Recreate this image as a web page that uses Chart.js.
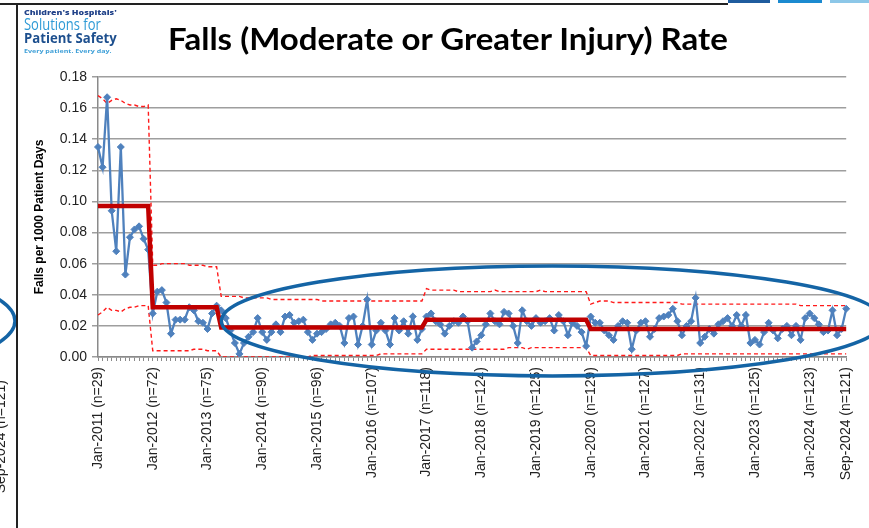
<!DOCTYPE html>
<html lang="en">
<head>
<meta charset="UTF-8">
<title>Falls Rate</title>
<script src="https://cdn.jsdelivr.net/npm/chart.js"></script>
<style>
body {
    margin: 0;
    background: #fff;
}
.slide {
    position: relative;
    width: 869px;
    height: 528px;
    overflow: hidden;
    background: #fff;
}
#chart {
    position: absolute;
    left: 0;
    top: 0;
}
/* slide edges left over from the screenshot */
.edge-v {
    position: absolute;
    left: 16px;
    top: 3px;
    width: 2px;
    height: 525px;
    background: #222;
}
.edge-h {
    position: absolute;
    left: 0;
    top: 3px;
    width: 728px;
    height: 2px;
    background: #222;
}
.bar {
    position: absolute;
    top: 0;
    height: 3px;
}
.logo div, .title {
    position: absolute;
    white-space: nowrap;
    transform-origin: left top;
    line-height: 1;
}
.logo div {
    font-family: 'Open Sans', sans-serif;
}
.title {
    font-family: 'Lato', sans-serif;
    font-weight: 700;
    font-size: 30px;
    color: #000;
}
</style>
</head>
<body>
<div class="slide">
    <canvas id="chart" width="869" height="528"></canvas>
    <div class="edge-h"></div>
    <div class="edge-v"></div>
    <div class="bar" style="left:728px;width:42px;background:#1f5c9e"></div>
    <div class="bar" style="left:778px;width:44px;background:#1b8ad0"></div>
    <div class="bar" style="left:830px;width:39px;background:#8cc7e8"></div>

    <div class="logo">
        <div class="fit" data-w="93" style="left:24px;top:8.5px;font-size:7px;font-weight:800;color:#22438a">Children's Hospitals'</div>
        <div class="fit" data-w="77" style="left:24px;top:15.5px;font-size:16px;font-weight:400;color:#2d9ad6">Solutions for</div>
        <div class="fit" data-w="93" style="left:24px;top:31px;font-size:14px;font-weight:700;color:#1d4f8e">Patient Safety</div>
        <div class="fit" data-w="88" style="left:24px;top:48.5px;font-size:5.5px;font-weight:700;color:#3fa0d8">Every patient. Every day.</div>
    </div>
    <div class="title fit" data-w="560" style="left:168px;top:22.5px">Falls (Moderate or Greater Injury) Rate</div>
</div>

<script>
// monthly rate, Jan-2011 .. Sep-2024
var rate = [
    0.135, 0.122, 0.167, 0.094, 0.068, 0.135, 0.053, 0.077, 0.082, 0.084, 0.076, 0.069,
    0.028, 0.042, 0.043, 0.035, 0.015, 0.024, 0.024, 0.024, 0.032, 0.030, 0.023, 0.022,
    0.018, 0.028, 0.033, 0.030, 0.025, 0.017, 0.009, 0.002, 0.009, 0.013, 0.016, 0.025,
    0.016, 0.011, 0.016, 0.021, 0.016, 0.026, 0.027, 0.022, 0.023, 0.024, 0.016, 0.011,
    0.015, 0.016, 0.018, 0.021, 0.022, 0.020, 0.009, 0.025, 0.026, 0.008, 0.020, 0.037,
    0.008, 0.017, 0.022, 0.017, 0.008, 0.025, 0.017, 0.023, 0.015, 0.026, 0.011, 0.018,
    0.026, 0.028, 0.023, 0.021, 0.015, 0.020, 0.023, 0.022, 0.026, 0.023, 0.006, 0.010,
    0.014, 0.021, 0.028, 0.023, 0.021, 0.029, 0.028, 0.020, 0.009, 0.030, 0.023, 0.020,
    0.025, 0.022, 0.023, 0.025, 0.017, 0.027, 0.023, 0.014, 0.022, 0.020, 0.016, 0.007,
    0.026, 0.022, 0.022, 0.017, 0.014, 0.011, 0.020, 0.023, 0.022, 0.005, 0.017, 0.022,
    0.023, 0.013, 0.018, 0.025, 0.026, 0.027, 0.031, 0.023, 0.014, 0.020, 0.023, 0.038,
    0.009, 0.013, 0.018, 0.015, 0.021, 0.023, 0.025, 0.020, 0.027, 0.020, 0.027, 0.009,
    0.011, 0.008, 0.016, 0.022, 0.017, 0.012, 0.018, 0.020, 0.014, 0.020, 0.011, 0.025,
    0.028, 0.025, 0.021, 0.016, 0.017, 0.030, 0.014, 0.018, 0.031
];

// centre line phases (first month index of each phase and its mean)
var phaseStart = [0, 12, 27, 72, 108];
var phaseMean = [0.097, 0.032, 0.019, 0.024, 0.018];

// control limits, phase by phase
var uclP1 = [0.168, 0.166, 0.163, 0.165, 0.166, 0.165, 0.163, 0.162, 0.162, 0.161, 0.161, 0.162];
var lclP1 = [0.027, 0.029, 0.032, 0.030, 0.030, 0.029, 0.031, 0.032, 0.032, 0.033, 0.033, 0.033];
var uclP2 = [0.059, 0.059, 0.060, 0.060, 0.060, 0.060, 0.060, 0.060, 0.059, 0.059, 0.059, 0.059, 0.058, 0.058, 0.058];
var lclP2 = [0.004, 0.004, 0.004, 0.004, 0.004, 0.004, 0.004, 0.004, 0.004, 0.005, 0.005, 0.005, 0.004, 0.004, 0.004];
var uclP3 = [0.039, 0.039, 0.039, 0.039, 0.039, 0.038, 0.038, 0.038, 0.038, 0.038,
             0.038, 0.037, 0.037, 0.037, 0.037, 0.037, 0.037, 0.037, 0.037, 0.037,
             0.037, 0.037, 0.036, 0.036, 0.036, 0.036, 0.036, 0.036, 0.036, 0.036,
             0.036, 0.036, 0.036, 0.036, 0.036, 0.036, 0.036, 0.036, 0.036, 0.036,
             0.036, 0.036, 0.036, 0.036, 0.036];
var lclP3 = [0.000, 0.000, 0.000, 0.000, 0.000, 0.000, 0.000, 0.000, 0.000, 0.000,
             0.000, 0.000, 0.000, 0.000, 0.000, 0.000, 0.000, 0.000, 0.000, 0.000,
             0.001, 0.001, 0.001, 0.001, 0.001, 0.001, 0.001, 0.001, 0.001, 0.001,
             0.001, 0.001, 0.001, 0.001, 0.001, 0.002, 0.002, 0.002, 0.002, 0.002,
             0.002, 0.002, 0.002, 0.002, 0.002];
var uclP4 = [0.044, 0.043, 0.043, 0.043, 0.043, 0.043, 0.043, 0.042, 0.042, 0.042, 0.042, 0.042,
             0.042, 0.042, 0.042, 0.043, 0.042, 0.042, 0.042, 0.042, 0.042, 0.042, 0.042, 0.042,
             0.042, 0.043, 0.042, 0.042, 0.042, 0.042, 0.042, 0.042, 0.042, 0.042, 0.042, 0.042];
var lclP4 = [0.005, 0.005, 0.005, 0.005, 0.005, 0.005, 0.005, 0.005, 0.005, 0.005, 0.005, 0.005,
             0.005, 0.005, 0.005, 0.005, 0.005, 0.005, 0.006, 0.006, 0.006, 0.006, 0.005, 0.006,
             0.006, 0.006, 0.006, 0.006, 0.006, 0.006, 0.006, 0.006, 0.006, 0.006, 0.006, 0.006];
var uclP5 = [0.034, 0.035, 0.036, 0.036, 0.036, 0.035, 0.035, 0.035, 0.035, 0.035, 0.035, 0.035,
             0.035, 0.035, 0.035, 0.035, 0.035, 0.035, 0.035, 0.035, 0.034, 0.034, 0.034, 0.034,
             0.034, 0.034, 0.034, 0.034, 0.034, 0.034, 0.034, 0.034, 0.034, 0.034, 0.034, 0.034,
             0.034, 0.034, 0.034, 0.034, 0.034, 0.034, 0.034, 0.034, 0.034, 0.034, 0.033, 0.033,
             0.033, 0.033, 0.033, 0.033, 0.033, 0.033, 0.033, 0.033, 0.033];
var lclP5 = [0.001, 0.001, 0.001, 0.001, 0.001, 0.001, 0.001, 0.001, 0.001, 0.001, 0.001, 0.001,
             0.001, 0.001, 0.001, 0.001, 0.001, 0.001, 0.001, 0.001, 0.002, 0.002, 0.002, 0.002,
             0.002, 0.002, 0.002, 0.002, 0.002, 0.002, 0.002, 0.002, 0.002, 0.002, 0.002, 0.002,
             0.002, 0.002, 0.002, 0.002, 0.002, 0.002, 0.002, 0.002, 0.002, 0.002, 0.002, 0.002,
             0.002, 0.002, 0.002, 0.002, 0.002, 0.002, 0.002, 0.002, 0.002];

// labelled months on the x axis and their n counts
var labelMonths = ['Jan-2011', 'Jan-2012', 'Jan-2013', 'Jan-2014', 'Jan-2015', 'Jan-2016', 'Jan-2017',
                   'Jan-2018', 'Jan-2019', 'Jan-2020', 'Jan-2021', 'Jan-2022', 'Jan-2023', 'Jan-2024', 'Sep-2024'];
var labelN = [29, 72, 75, 90, 96, 107, 118, 124, 125, 129, 127, 131, 125, 123, 121];

var monthNames = ['Jan', 'Feb', 'Mar', 'Apr', 'May', 'Jun', 'Jul', 'Aug', 'Sep', 'Oct', 'Nov', 'Dec'];
var categories = [];
for (var y = 2011; y <= 2024; y++) {
    for (var m = 0; m < 12; m++) {
        if (categories.length < rate.length) categories.push(monthNames[m] + '-' + y);
    }
}

var centerLine = categories.map(function (c, i) {
    var p = 0;
    for (var k = 0; k < phaseStart.length; k++) if (i >= phaseStart[k]) p = k;
    return phaseMean[p];
});
var ucl = uclP1.concat(uclP2, uclP3, uclP4, uclP5);
var lcl = lclP1.concat(lclP2, lclP3, lclP4, lclP5);

// stretch the header texts to the widths they have in the slide
document.querySelectorAll('.fit').forEach(function (el) {
    var w = parseFloat(el.getAttribute('data-w'));
    el.style.transform = 'scaleX(' + (w / el.offsetWidth) + ')';
});

var axisFont = { family: "'Liberation Sans', Arial, sans-serif", size: 14 };

// the hand drawn ovals and the clipped label from the neighbouring slide
var overlays = {
    id: 'overlays',
    afterDraw: function (chart) {
        var c = chart.ctx;
        var xs = chart.scales.x, ys = chart.scales.y;
        c.save();
        c.strokeStyle = '#1464a5';
        c.lineWidth = 3.5;
        c.beginPath();
        c.ellipse(xs.getPixelForValue(99.6), ys.getPixelForValue(0.0232), 331, 55, 0, 0, Math.PI * 2);
        c.stroke();
        c.beginPath();
        c.ellipse(-317, 321, 332, 70, 0, 0, Math.PI * 2);
        c.stroke();

        c.fillStyle = '#222';
        c.font = "14px 'Liberation Sans', Arial, sans-serif";
        c.translate(5, 380);
        c.rotate(-Math.PI / 2);
        c.textAlign = 'right';
        c.textBaseline = 'alphabetic';
        c.fillText('Sep-2024 (n=121)', 0, 0);
        c.restore();
    }
};

new Chart(document.getElementById('chart'), {
    type: 'line',
    data: {
        labels: categories,
        datasets: [{
            label: 'Centre line',
            data: centerLine,
            borderColor: '#c00000',
            borderWidth: 4.5,
            pointRadius: 0,
            order: 0
        }, {
            label: 'Rate',
            data: rate,
            borderColor: '#4f81bd',
            backgroundColor: '#4f81bd',
            borderWidth: 2.3,
            pointStyle: 'rectRot',
            pointRadius: 3.5,
            pointBorderWidth: 1,
            order: 1
        }, {
            label: 'UCL',
            data: ucl,
            borderColor: '#ff1a1a',
            borderWidth: 1.4,
            borderDash: [4, 3],
            pointRadius: 0,
            order: 2
        }, {
            label: 'LCL',
            data: lcl,
            borderColor: '#ff1a1a',
            borderWidth: 1.4,
            borderDash: [4, 3],
            pointRadius: 0,
            order: 2
        }]
    },
    options: {
        responsive: false,
        animation: false,
        layout: { padding: { left: 32, top: 77, right: 11, bottom: 0 } },
        plugins: {
            legend: { display: false },
            tooltip: { enabled: false }
        },
        scales: {
            x: {
                offset: false,
                grid: { drawOnChartArea: false, drawTicks: true, tickLength: 4, color: '#8a8a8a' },
                border: { color: '#8a8a8a', width: 1.5 },
                ticks: {
                    autoSkip: false,
                    minRotation: 90,
                    maxRotation: 90,
                    padding: 6,
                    color: '#222',
                    font: axisFont,
                    callback: function (value, index) {
                        var k = labelMonths.indexOf(categories[index]);
                        return k >= 0 ? categories[index] + ' (n=' + labelN[k] + ')' : '';
                    }
                },
                afterFit: function (scale) { scale.height = 171; }
            },
            y: {
                min: 0,
                max: 0.18,
                grid: { color: '#9e9e9e', lineWidth: 1.5, tickLength: 6 },
                border: { color: '#8a8a8a', width: 1.5 },
                ticks: {
                    stepSize: 0.02,
                    padding: 5,
                    color: '#222',
                    font: axisFont,
                    callback: function (v) { return v.toFixed(2); }
                },
                title: {
                    display: true,
                    text: 'Falls per 1000 Patient Days',
                    color: '#000',
                    padding: 0,
                    font: { family: "'Liberation Sans', Arial, sans-serif", size: 12, weight: 'bold' }
                },
                afterFit: function (scale) { scale.width = 66; }
            }
        }
    },
    plugins: [overlays]
});
</script>
</body>
</html>
